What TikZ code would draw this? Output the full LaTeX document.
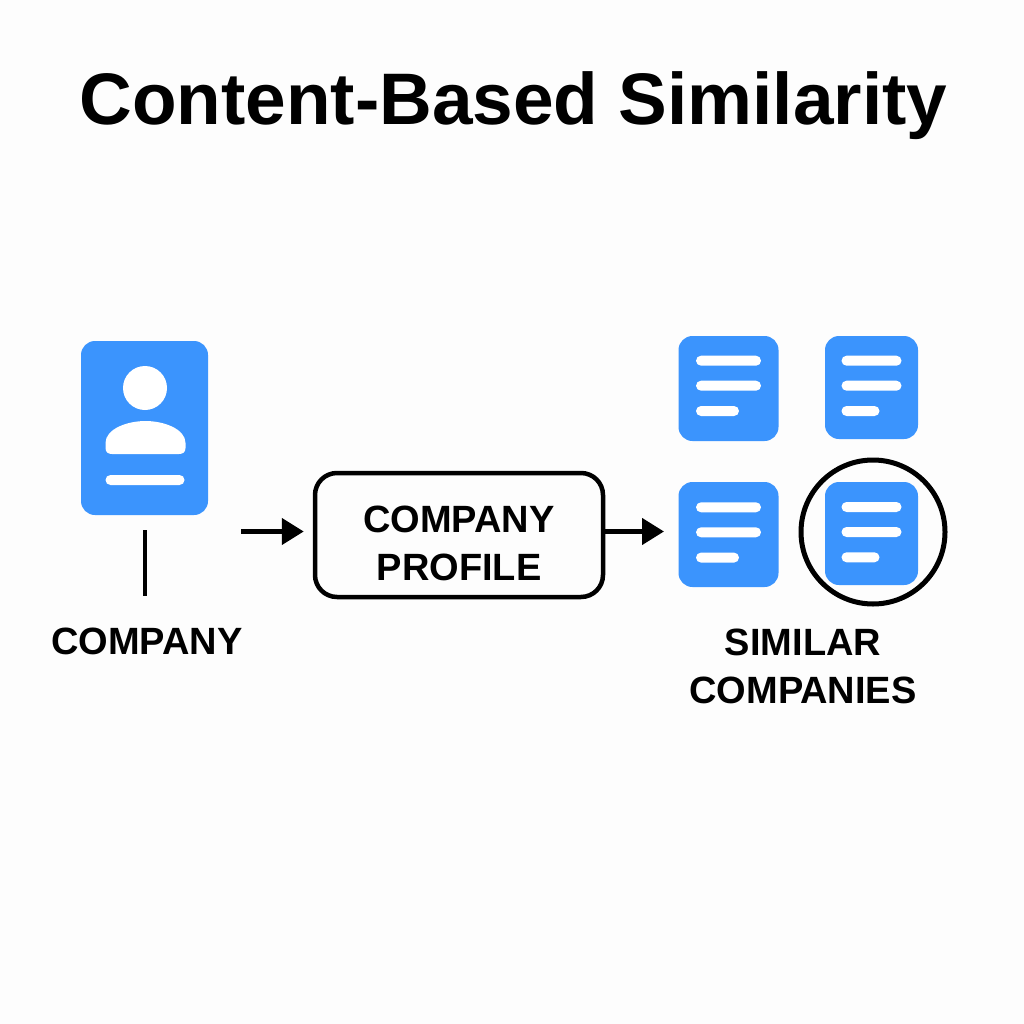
\documentclass[tikz,border=0pt]{standalone}
\usepackage{fontspec}
\setmainfont{Liberation Sans}
\usetikzlibrary{arrows.meta}
\definecolor{cardblue}{HTML}{3B94FD}
\definecolor{paper}{HTML}{FDFDFD}
\tikzset{
  x=1pt,y=-1pt,
  card/.style={fill=cardblue,draw=none,rounded corners=#1,inner sep=0pt,outer sep=0pt},
  card/.default=14pt,
  bar/.style={fill=white,draw=none,rounded corners=5pt,inner sep=0pt,outer sep=0pt,minimum height=10pt},
  label/.style={font=\fontsize{38}{48}\selectfont\bfseries,align=center,text=black,inner sep=0pt},
  flow/.style={line width=4.5pt,black,-{Triangle[length=22pt,width=26pt]}},
}
\newcommand{\doccard}[8]{% name, cx, cy, w, h, long width, short width, first bar y
  \node[card,minimum width=#4pt,minimum height=#5pt] (#1) at (#2,#3) {};
  \node[bar,minimum width=#6pt] (#1a) at (#2,#8) {};
  \node[bar,minimum width=#6pt] (#1b) at (#2,#8+25) {};
  \node[bar,minimum width=#7pt,anchor=west] (#1c) at ([xshift=-#6pt/2]#2,#8+50.3) {};
}
\begin{document}
\begin{tikzpicture}
\useasboundingbox (0,0) rectangle (1024,1024);
\fill[paper] (0,0) rectangle (1024,1024);
\node[font=\fontsize{73}{80}\selectfont\bfseries,inner sep=0pt] (title) at (513.5,106) {Content-Based Similarity};
% person card
\node[card,minimum width=127pt,minimum height=174pt] (person) at (144.5,428) {};
\node[circle,fill=white,minimum size=44pt,inner sep=0pt] (head) at (145,388) {};
\fill[white] (105.5,443) .. controls (105.5,429) and (127,421) .. (145.5,421)
  .. controls (164,421) and (185.5,429) .. (185.5,443)
  -- (185.5,448) .. controls (185.5,452) and (183,454) .. (179,454) -- (112,454)
  .. controls (108,454) and (105.5,452) .. (105.5,448) -- cycle;
\node[bar,minimum width=79pt] (idbar) at (145,480) {};
% label + stem
\coordinate (stemtop) at (145,530);
\coordinate (stemend) at (145,596);
\draw[line width=4.5pt,black] (stemtop) -- (stemend);
\node[label] (company) at (147,641) {COMPANY};
% profile
\node[draw=black,line width=4.5pt,rounded corners=22pt,minimum width=288pt,minimum height=124pt,inner sep=0pt,outer sep=2.25pt] (profile) at (459,535) {};
\node[label] (profiletext) at (459,543) {COMPANY\\PROFILE};
\coordinate (arrowstart) at (241,531.5);
\draw[flow,shorten >=9pt] (arrowstart) -- (profile.west |- arrowstart);
% documents
\doccard{docA}{728.5}{388.5}{100}{105}{65}{43}{360.7}
\doccard{docB}{871.5}{387.5}{93}{103}{60}{38}{360.7}
\doccard{docC}{728.5}{534.5}{100}{105}{65}{43}{507.3}
\doccard{docD}{871.5}{533.5}{93}{103}{60}{38}{507}
\draw[flow,shorten >=14.5pt] (profile.east |- arrowstart) -- (docC.west |- arrowstart);
\node[circle,draw=black,line width=5pt,minimum size=144pt,inner sep=0pt] (ring) at (873,532) {};
\node[label] (similar) at (803,666) {SIMILAR\\COMPANIES};
\end{tikzpicture}
\end{document}
